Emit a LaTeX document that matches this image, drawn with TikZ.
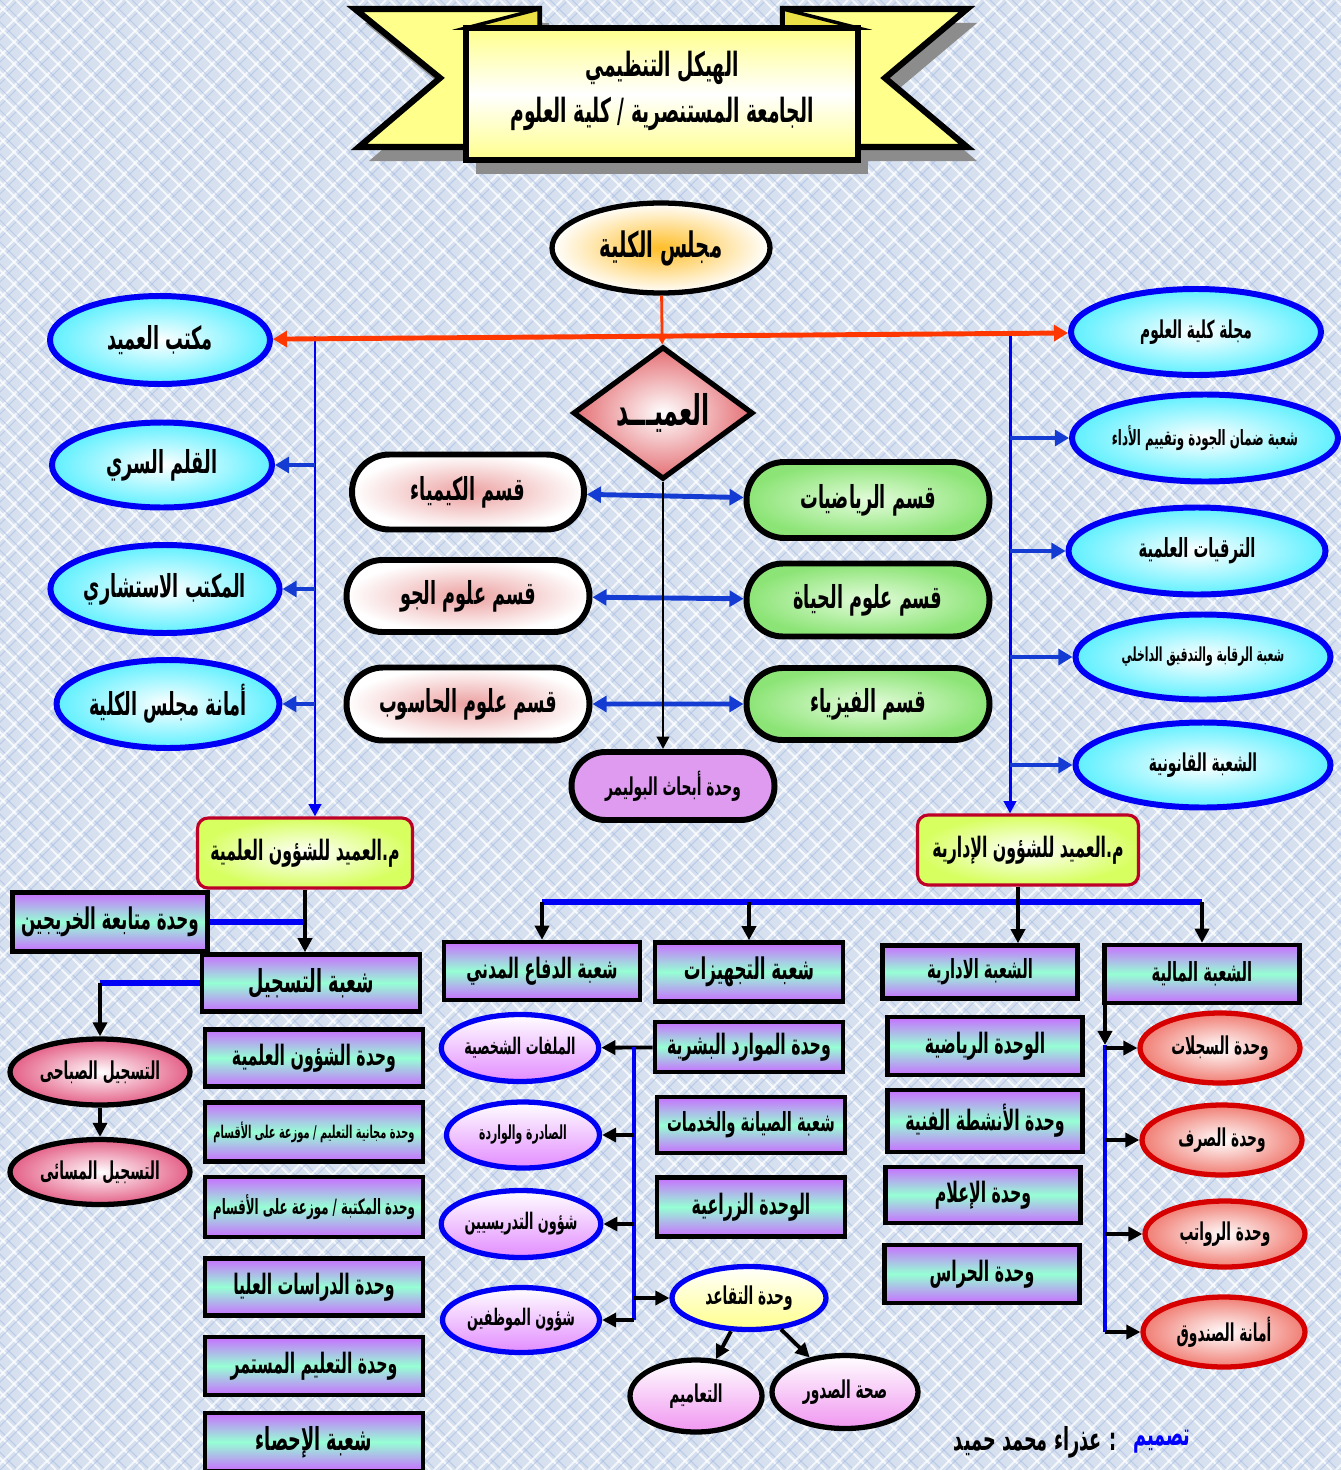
\documentclass[tikz,border=0pt]{standalone}
\usepackage{fontspec}
\usepackage{tikz}
\usetikzlibrary{shapes.geometric,shapes.misc,arrows.meta,positioning}
\usepackage{xcolor}
\TeXXeTstate=1
\newfontfamily\arabicfont[Script=Arabic,FakeStretch=0.56]{DejaVu Sans}
\newcommand{\artxt}[1]{\beginR#1\endR}
\newcommand{\AF}[1]{\arabicfont\bfseries\fontsize{#1}{#1}\selectfont}
\newlength{\unitpx}\setlength{\unitpx}{0.02cm}
\definecolor{BgFill}{RGB}{214,224,239}
\definecolor{LatBlue}{RGB}{168,190,226}
\definecolor{YellowR}{RGB}{255,255,140}
\definecolor{FoldY}{RGB}{235,225,70}
\definecolor{OrangeC}{RGB}{255,190,40}
\definecolor{BlueE}{RGB}{0,0,245}
\definecolor{BlueA}{RGB}{20,60,210}
\definecolor{CyanE}{RGB}{95,240,255}
\definecolor{RedL}{RGB}{255,55,0}
\definecolor{RoseD}{RGB}{228,110,115}
\definecolor{PinkC}{RGB}{236,160,160}
\definecolor{GreenC}{RGB}{228,252,220}
\definecolor{GreenE}{RGB}{140,228,118}
\definecolor{PolyV}{RGB}{222,155,240}
\definecolor{RedB}{RGB}{190,0,40}
\definecolor{LimeE}{RGB}{215,255,95}
\definecolor{VioletU}{RGB}{200,110,255}
\definecolor{MintU}{RGB}{150,255,212}
\definecolor{VioletO}{RGB}{226,140,255}
\definecolor{RedE}{RGB}{215,0,0}
\definecolor{SalmonE}{RGB}{240,125,115}
\definecolor{RoseE}{RGB}{228,95,135}
\definecolor{MagentaE}{RGB}{240,150,240}
\definecolor{YellowO}{RGB}{255,255,140}
\tikzstyle{LatA}=[white,line width=1.1pt,opacity=0.75]
\tikzstyle{LatB}=[LatBlue,line width=0.6pt,opacity=0.6]
\tikzstyle{Shadow}=[fill=black!45]
\tikzstyle{Ribbon}=[fill=YellowR,draw=black,line width=3.5pt,line join=miter]
\tikzstyle{Fold}=[fill=FoldY,draw=black,line width=2pt]
\tikzstyle{Banner}=[top color=YellowR,bottom color=YellowR,middle color=white,draw=black,line width=3.5pt]
\tikzstyle{Majlis}=[ellipse,draw=black,line width=3pt,inner color=OrangeC,outer color=white,inner sep=0pt,font=\AF{20}]
\tikzstyle{Cyan}=[ellipse,draw=BlueE,line width=3.4pt,inner color=white,outer color=CyanE,inner sep=0pt,font=\AF{18}]
\tikzstyle{Dean}=[diamond,draw=black,line width=3pt,inner color=white,outer color=RoseD,inner sep=0pt,font=\AF{24}]
\tikzstyle{Pill}=[rounded rectangle,draw=black,line width=3.4pt,inner sep=0pt,font=\AF{18}]
\tikzstyle{PillW}=[Pill,inner color=PinkC,outer color=white]
\tikzstyle{PillG}=[Pill,inner color=GreenC,outer color=GreenE]
\tikzstyle{Deputy}=[rectangle,rounded corners=6pt,draw=RedB,line width=1.8pt,inner color=white,outer color=LimeE,inner sep=0pt,font=\AF{16}]
\tikzstyle{Unit}=[rectangle,draw=black,line width=2.6pt,top color=VioletU,bottom color=VioletU,middle color=MintU,inner sep=0pt,font=\AF{16}]
\tikzstyle{Oval}=[ellipse,draw=BlueE,line width=3pt,top color=white,bottom color=VioletO,inner sep=0pt,font=\AF{13}]
\tikzstyle{OvalY}=[Oval,top color=white,bottom color=YellowO]
\tikzstyle{OvalM}=[ellipse,draw=black,line width=3pt,top color=white,bottom color=MagentaE,inner sep=0pt,font=\AF{14}]
\tikzstyle{OvalP}=[ellipse,draw=black,line width=3pt,inner color=white,outer color=RoseE,inner sep=0pt,font=\AF{14}]
\tikzstyle{OvalR}=[ellipse,draw=RedE,line width=3pt,inner color=white,outer color=SalmonE,inner sep=0pt,font=\AF{14}]
\tikzstyle{RedThin}=[RedL,line width=1.6pt,-{Triangle[length=6pt,width=6pt]}]
\tikzstyle{RedThick}=[RedL,line width=2.8pt,{Triangle[length=8pt,width=9pt]}-{Triangle[length=8pt,width=9pt]}]
\tikzstyle{BlueThin}=[BlueE,line width=1.7pt]
\tikzstyle{BlueArrow}=[BlueA,line width=2.8pt,-{Triangle[length=8pt,width=9pt]}]
\tikzstyle{BlueBar}=[BlueE,line width=3.4pt]
\tikzstyle{BlackArrow}=[black,line width=2.2pt,-{Triangle[length=8pt,width=8pt]}]
\tikzset{Sz/.style 2 args={minimum width=#1\unitpx,minimum height=#2\unitpx}}

\begin{document}
\begin{tikzpicture}[x=0.02cm,y=-0.02cm]
\useasboundingbox(0,0)rectangle(1341,1470);
\fill[BgFill](0,0)rectangle(1341,1470);
\begin{scope}
\clip(0,0)rectangle(1341,1470);
\foreach \i in {-1480,-1458,...,1341}{
\draw[LatB](\i+6,0)--++(1470,1470);
\draw[LatB](\i+1476,0)--++(-1470,1470);
\draw[LatA](\i,0)--++(1470,1470);
\draw[LatA](\i+1470,0)--++(-1470,1470);
}
\end{scope}
\begin{scope}[shift={(10,14)}]
\fill[Shadow](355,9)--(539,9)--(539,147)--(359,147)--(440,78)--cycle;
\fill[Shadow](783,9)--(967,9)--(885,78)--(967,147)--(783,147)--cycle;
\fill[Shadow](466,28)rectangle(858,160);
\end{scope}
\filldraw[Ribbon](355,9)--(539,9)--(539,147)--(359,147)--(440,78)--cycle;
\filldraw[Ribbon](783,9)--(967,9)--(885,78)--(967,147)--(783,147)--cycle;
\filldraw[Fold](466,28)--(539,9)--(539,28)--cycle;
\filldraw[Fold](858,28)--(783,9)--(783,28)--cycle;
\shadedraw[Banner](466,28)rectangle(858,160);
\node[font=\arabicfont\bfseries\fontsize{19}{26}\selectfont,align=center](title)at(662,91){\artxt{الهيكل التنظيمي}\\\artxt{الجامعة المستنصرية / كلية العلوم}};

\node[Majlis,Sz={218}{90}](majlis)at(661,248){\artxt{مجلس الكلية}};
\node[Cyan,Sz={220}{88}](maktab)at(160,340){\artxt{مكتب العميد}};
\node[Cyan,Sz={220}{85}](qalam)at(162,465){\artxt{القلم السري}};
\node[Cyan,Sz={220}{88}](istishari)at(165,589){\artxt{المكتب الاستشاري}};
\node[Cyan,Sz={220}{88}](amana)at(168,704){\artxt{أمانة مجلس الكلية}};
\node[Cyan,Sz={250}{86},font=\AF{14}](majalla)at(1196,332){\artxt{مجلة كلية العلوم}};
\node[Cyan,Sz={266}{87},font=\AF{12}](jawda)at(1205,438){\artxt{شعبة ضمان الجودة وتقييم الأداء}};
\node[Cyan,Sz={257}{87},font=\AF{15}](tarqiyat)at(1197,551){\artxt{الترقيات العلمية}};
\node[Cyan,Sz={255}{85},font=\AF{11}](raqaba)at(1203,657){\artxt{شعبة الرقابة والتدقيق الداخلي}};
\node[Cyan,Sz={255}{85},font=\AF{14}](qanuni)at(1203,765){\artxt{الشعبة القانونية}};
\node[Dean,Sz={180}{105}](dean)at(663,413){\artxt{العميـــد}};
\node[PillW,Sz={232}{75}](chem)at(468,492){\artxt{قسم الكيمياء}};
\node[PillW,Sz={243}{72}](atmo)at(468,596){\artxt{قسم علوم الجو}};
\node[PillW,Sz={243}{73}](comp)at(468,704){\artxt{قسم علوم الحاسوب}};
\node[PillG,Sz={243}{76}](math)at(868,500){\artxt{قسم الرياضيات}};
\node[PillG,Sz={243}{73}](bio)at(868,600){\artxt{قسم علوم الحياة}};
\node[PillG,Sz={243}{72}](phys)at(868,704){\artxt{قسم الفيزياء}};
\node[Pill,fill=PolyV,Sz={203}{68},font=\AF{14}](polymer)at(673,786){\artxt{وحدة أبحاث البوليمر}};
\node[Deputy,Sz={215}{70}](sciVD)at(305,853){\artxt{م.العميد للشؤون العلمية}};
\node[Deputy,Sz={221}{70}](admVD)at(1028,850){\artxt{م.العميد للشؤون الإدارية}};

\node[Unit,Sz={195}{59},font=\AF{17}](grad)at(110,922){\artxt{وحدة متابعة الخريجين}};
\node[Unit,Sz={218}{57},font=\AF{18}](reg)at(311,983){\artxt{شعبة التسجيل}};
\node[OvalP,Sz={180}{66}](sabahi)at(100,1072){\artxt{التسجيل الصباحى}};
\node[OvalP,Sz={180}{65}](masai)at(100,1172){\artxt{التسجيل المسائى}};
\node[Unit,Sz={218}{57}](sciunit)at(314,1058){\artxt{وحدة الشؤون العلمية}};
\node[Unit,Sz={218}{59},font=\AF{10}](majjani)at(314,1132){\artxt{وحدة مجانية التعليم / موزعة على الأقسام}};
\node[Unit,Sz={218}{60},font=\AF{12}](maktaba)at(314,1207){\artxt{وحدة المكتبة / موزعة على الأقسام}};
\node[Unit,Sz={218}{57}](dirasat)at(314,1287){\artxt{وحدة الدراسات العليا}};
\node[Unit,Sz={218}{58}](talim)at(314,1366){\artxt{وحدة التعليم المستمر}};
\node[Unit,Sz={218}{58},font=\AF{18}](ihsa)at(314,1442){\artxt{شعبة الإحصاء}};

\node[Unit,Sz={196}{58}](difa)at(542,971){\artxt{شعبة الدفاع المدني}};
\node[Unit,Sz={188}{59},font=\AF{17}](tajhiz)at(749,972){\artxt{شعبة التجهيزات}};
\node[Unit,Sz={195}{53},font=\AF{15}](idari)at(980,972){\artxt{الشعبة الادارية}};
\node[Unit,Sz={195}{58},font=\AF{15}](mali)at(1202,974){\artxt{الشعبة المالية}};
\node[Unit,Sz={188}{50}](hr)at(749,1047){\artxt{وحدة الموارد البشرية}};
\node[Unit,Sz={188}{56},font=\AF{15}](siyana)at(751,1125){\artxt{شعبة الصيانة والخدمات}};
\node[Unit,Sz={188}{59}](ziraa)at(751,1207){\artxt{الوحدة الزراعية}};
\node[Oval,Sz={154}{67}](files)at(520,1048){\artxt{الملفات الشخصية}};
\node[Oval,Sz={153}{66},font=\AF{11}](sadira)at(523,1135){\artxt{الصادرة والواردة}};
\node[Oval,Sz={157}{67}](tadris)at(521,1224){\artxt{شؤون التدريسيين}};
\node[Oval,Sz={157}{65}](emp)at(521,1320){\artxt{شؤون الموظفين}};
\node[OvalY,Sz={154}{63},font=\AF{14}](retire)at(749,1298){\artxt{وحدة التقاعد}};
\node[OvalM,Sz={132}{72}](taamim)at(696,1396){\artxt{التعاميم}};
\node[OvalM,Sz={146}{73}](sihha)at(845,1392){\artxt{صحة الصدور}};
\node[Unit,Sz={195}{58}](riyadi)at(985,1046){\artxt{الوحدة الرياضية}};
\node[Unit,Sz={195}{62}](anshita)at(985,1121){\artxt{وحدة الأنشطة الفنية}};
\node[Unit,Sz={195}{56}](ilam)at(983,1195){\artxt{وحدة الإعلام}};
\node[Unit,Sz={195}{58}](hurras)at(982,1274){\artxt{وحدة الحراس}};
\node[OvalR,Sz={160}{70}](sijillat)at(1220,1048){\artxt{وحدة السجلات}};
\node[OvalR,Sz={160}{70}](sarf)at(1222,1140){\artxt{وحدة الصرف}};
\node[OvalR,Sz={160}{66}](rawatib)at(1225,1234){\artxt{وحدة الرواتب}};
\node[OvalR,Sz={162}{70}](sunduq)at(1224,1332){\artxt{أمانة الصندوق}};
\node[font=\AF{18},text=blue](designLbl)at(1162,1442){\artxt{تصميم}};
\node[font=\AF{18},left=4\unitpx of designLbl](designer){\artxt{: عذراء محمد حميد}};

\coordinate(lj)at(315,336);
\coordinate(rj)at(1010,336);
\draw[BlueThin,-{Triangle[length=7pt,width=7pt]}](lj)--(lj|-sciVD.north);
\draw[BlueThin,-{Triangle[length=7pt,width=7pt]}](rj)--(rj|-admVD.north);
\foreach \n in {qalam,istishari,amana}\draw[BlueArrow](lj|-\n)--(\n);
\foreach \n in {jawda,tarqiyat,raqaba,qanuni}\draw[BlueArrow](rj|-\n)--(\n);
\draw[RedThin](majlis)--(dean);
\draw[RedThick](maktab)--(majalla);
\foreach \a/\b in {chem/math,atmo/bio,comp/phys}\draw[BlueArrow,{Triangle[length=8pt,width=9pt]}-{Triangle[length=8pt,width=9pt]}](\a)--(\b);
\draw[black,line width=1.5pt,-{Triangle[length=7pt,width=7pt]}](dean.south)--(dean.south|-polymer.north);

\draw[BlueBar](grad.east)--(grad.east-|sciVD.south);
\draw[BlackArrow](sciVD.south)--(sciVD.south|-reg.north);
\draw[BlueBar](reg.west)--(reg.west-|sabahi.north);
\draw[BlackArrow](reg.west-|sabahi.north)--(sabahi.north);
\draw[BlackArrow](sabahi)--(masai);

\coordinate(admX)at(1018,902);
\draw[BlueBar](admX-|difa.north)--(admX-|mali.north);
\draw[BlackArrow](admVD.south-|admX)--(idari.north-|admX);
\foreach \n in {difa,tajhiz,mali}\draw[BlackArrow](admX-|\n.north)--(\n.north);

\coordinate(hrX)at(634,1047);
\draw[BlackArrow](hr)--(files);
\draw[BlueThin,line width=2.2pt](hrX)--(hrX|-emp);
\foreach \n in {sadira,tadris,emp,retire}\draw[BlackArrow](hrX|-\n)--(\n);
\draw[BlackArrow](retire)--(taamim);
\draw[BlackArrow](retire)--(sihha);

\coordinate(maliX)at(1105,1045);
\draw[BlackArrow](mali.south-|maliX)--(maliX);
\draw[BlueThin,line width=2.2pt](maliX)--(maliX|-sunduq);
\foreach \n in {sijillat,sarf,rawatib,sunduq}\draw[BlackArrow](maliX|-\n)--(\n);
\end{tikzpicture}
\end{document}
